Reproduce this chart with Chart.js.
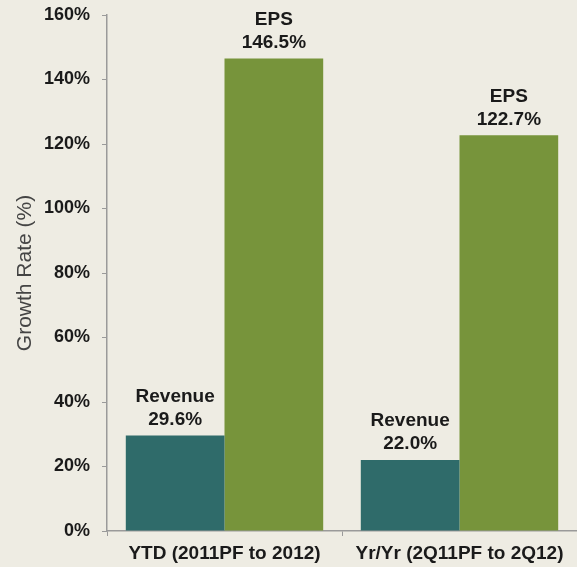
<!DOCTYPE html>
<html>
<head>
<meta charset="utf-8">
<script src="https://cdn.jsdelivr.net/npm/chart.js@4/dist/chart.umd.min.js"></script>
<style>
html,body{margin:0;padding:0;background:#eeece3;}
#wrap{width:577px;height:567px;position:relative;}
</style>
</head>
<body>
<div id="wrap"><canvas id="c" width="577" height="567"></canvas></div>
<script>
const categories = ["YTD (2011PF to 2012)", "Yr/Yr (2Q11PF to 2Q12)"];
const seriesNames = ["Revenue", "EPS"];
const revenue = [29.6, 22.0];
const eps = [146.5, 122.7];
const yTicks = [0, 20, 40, 60, 80, 100, 120, 140, 160];

const FONT = "'Liberation Sans', Arial, Helvetica, sans-serif";

const labelPlugin = {
  id: 'barLabels',
  afterDatasetsDraw(chart) {
    const ctx = chart.ctx;
    ctx.save();
    ctx.fillStyle = '#1a1a1a';
    ctx.font = 'bold 19px ' + FONT;
    ctx.textAlign = 'center';
    ctx.textBaseline = 'middle';
    chart.data.datasets.forEach((ds, di) => {
      chart.getDatasetMeta(di).data.forEach((bar, i) => {
        const v = ds.data[i];
        ctx.fillText(v.toFixed(1) + '%', bar.x, bar.y - 16);
        ctx.fillText(ds.label, bar.x, bar.y - 39);
      });
    });
    ctx.restore();
  }
};

new Chart(document.getElementById('c'), {
  type: 'bar',
  data: {
    labels: categories,
    datasets: [
      { label: seriesNames[0], data: revenue, backgroundColor: '#2f6b6a', borderWidth: 0 },
      { label: seriesNames[1], data: eps, backgroundColor: '#77943b', borderWidth: 0 }
    ]
  },
  options: {
    responsive: false,
    animation: false,
    layout: { padding: { top: 15, right: 0, left: 0, bottom: 0 } },
    plugins: { legend: { display: false }, tooltip: { enabled: false } },
    datasets: { bar: { categoryPercentage: 0.84, barPercentage: 1.0 } },
    scales: {
      x: {
        grid: { display: true, drawOnChartArea: false, drawTicks: true, tickLength: 5, color: '#9a9a9a', offset: true },
        border: { display: true, color: '#9a9a9a', width: 1.5 },
        ticks: { color: '#1a1a1a', font: { family: FONT, size: 19, weight: 'bold' }, padding: 6, maxRotation: 0 },
        afterFit(s) { s.height = 36; }
      },
      y: {
        min: 0, max: 160,
        afterBuildTicks(s) { s.ticks = yTicks.map(v => ({ value: v })); },
        grid: { display: true, drawOnChartArea: false, drawTicks: true, tickLength: 5, color: '#9a9a9a' },
        border: { display: true, color: '#9a9a9a', width: 1.5 },
        ticks: { color: '#1a1a1a', font: { family: FONT, size: 18, weight: 'bold', lineHeight: 0.8 }, padding: 12, callback: v => v + '%' },
        title: { display: true, text: 'Growth Rate (%)', color: '#444', font: { family: FONT, size: 21, weight: 'normal' }, padding: { top: 13, bottom: 4 } },
        afterFit(s) { s.width = 107; s.paddingTop = 0; s.paddingBottom = 0; }
      }
    }
  },
  plugins: [labelPlugin]
});
</script>
</body>
</html>
